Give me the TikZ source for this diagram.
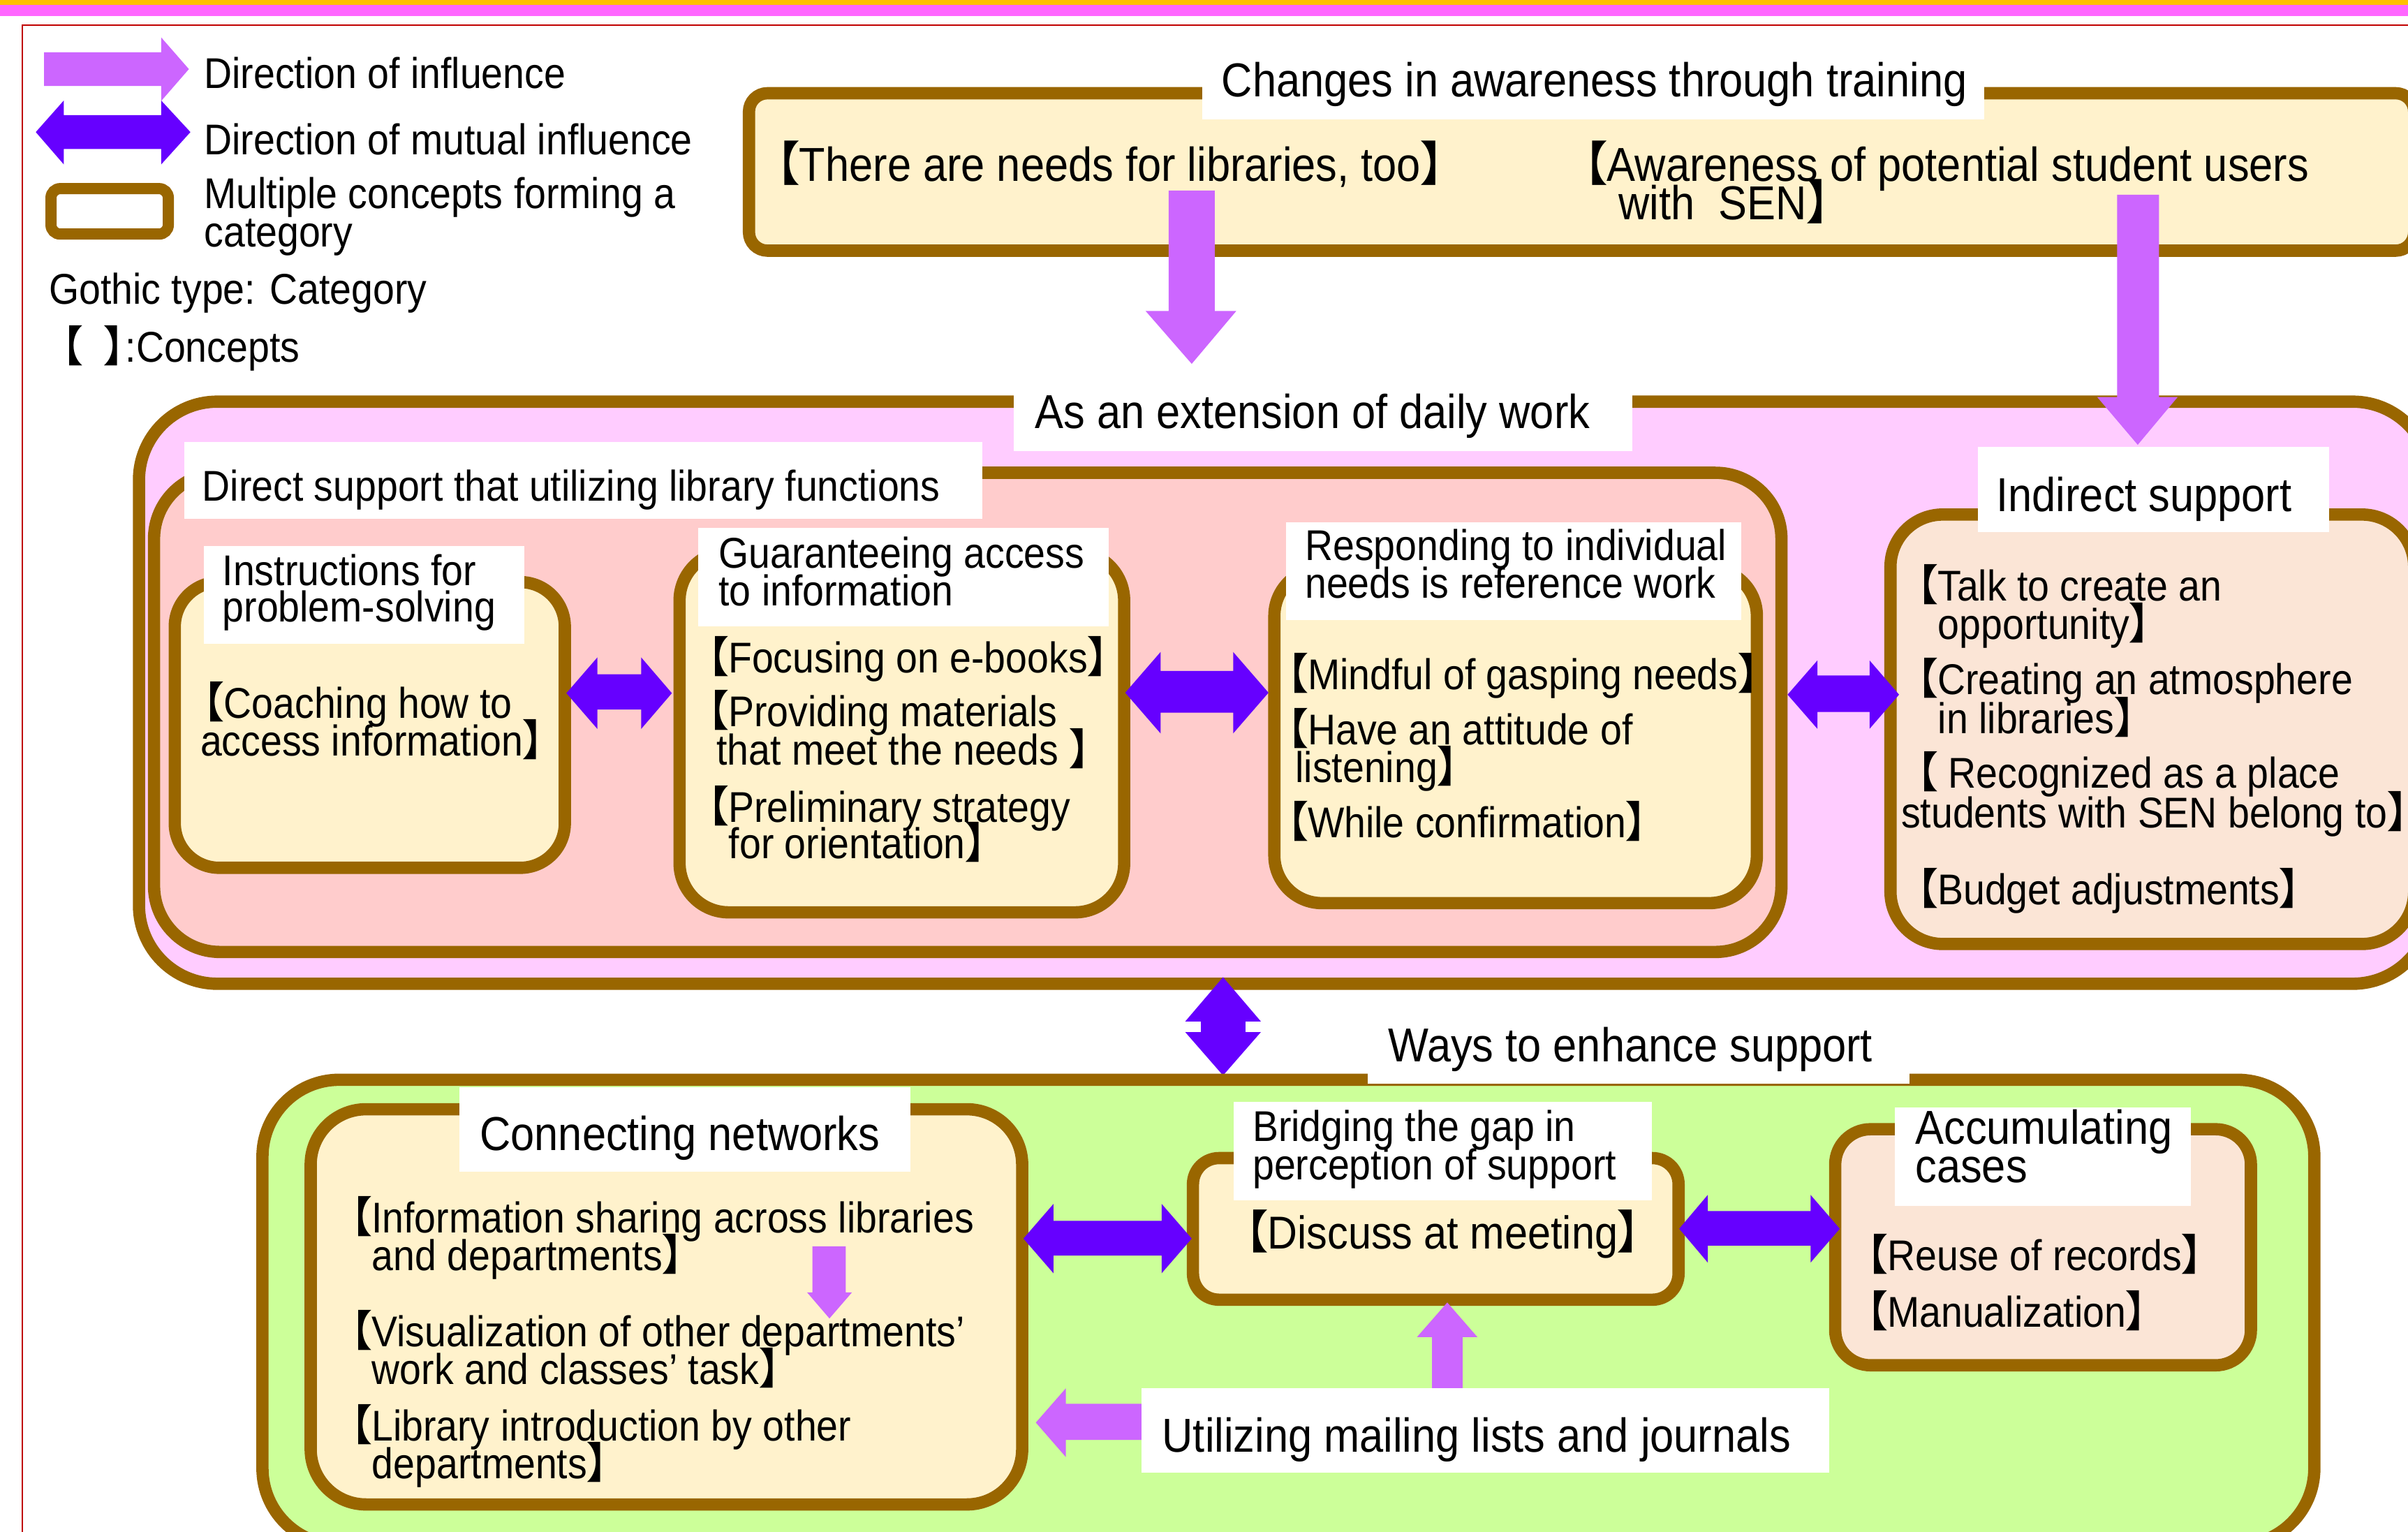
\documentclass[tikz,border=0pt]{standalone}
\usepackage{fontspec}
\setmainfont{Liberation Sans}[FakeStretch=0.9]
\newfontfamily\cjk{Noto Sans CJK JP}[RawFeature=+palt]
\usetikzlibrary{fit}
\definecolor{brownB}{HTML}{996600}
\definecolor{creamF}{HTML}{FFF2CC}
\definecolor{pinkF}{HTML}{FFCCFF}
\definecolor{salmonF}{HTML}{FFCCCC}
\definecolor{peachF}{HTML}{FBE5D6}
\definecolor{greenF}{HTML}{CCFF99}
\definecolor{inflC}{HTML}{CC66FF}
\definecolor{mutC}{HTML}{6600FF}
\definecolor{barO}{HTML}{FFC000}
\definecolor{barM}{HTML}{FF66FF}
\definecolor{frameR}{HTML}{C00000}
\newdimen\ov \ov=2.2pt
\newcommand\lb{{\cjk 【}}
\newcommand\rb{{\cjk 】}}
\newcommand\fmed{\fontsize{61.6pt}{54pt}\selectfont}
\newcommand\fbig{\fontsize{68.2pt}{55pt}\selectfont}
\newcommand\fdis{\fontsize{66pt}{55pt}\selectfont}
\newcommand\TwoL[4]{\vtop{\baselineskip=#1\ov\lineskiplimit=-\maxdimen\lineskip=0pt\hbox{#3}\hbox{\kern#2\ov #4}}}
\newcommand\dblH[8]{\fill[mutC] (#1,{(#5+#8)/2}) -- (#2,#5) -- (#2,#6) -- (#3,#6) -- (#3,#5) -- (#4,{(#5+#8)/2}) -- (#3,#8) -- (#3,#7) -- (#2,#7) -- (#2,#8) -- cycle;}
\begin{document}
\begin{tikzpicture}[x=2.2pt,y=-2.2pt,
  box/.style={draw=brownB,line width=17.6pt,inner sep=0pt,outer sep=0pt},
  txt/.style={anchor=base west,inner sep=0pt,outer sep=0pt,text=black},
  med/.style={txt,font=\fmed},
  bigt/.style={txt,font=\fbig}]
\useasboundingbox (0,0) rectangle (1568,997);
\fill[barO] (0,0) rectangle (1568,3.2);
\fill[barM] (0,3.2) rectangle (1568,10.5);
\draw[frameR,line width=2pt] (14.4,16.4) rectangle (1600,1030);
% legend
\fill[inflC] (28.7,34) -- (105,34) -- (105,24.4) -- (123,45) -- (105,65.7) -- (105,56) -- (28.7,56) -- cycle;
\fill[mutC] (23.3,86) -- (41.5,65.5) -- (41.5,75) -- (105,75) -- (105,65.5) -- (124,86) -- (105,107) -- (105,97) -- (41.5,97) -- (41.5,107) -- cycle;
\node[box,line width=16pt,fill=white,rounded corners=13.2pt,fit={(33.2,122.8) (109.6,152.4)}] (legbox) {};
\node[med] (leg1) at (133,57.6) {Direction of influence};
\node[med] (leg2) at (133,100.6) {Direction of mutual influence};
\node[med] (leg3) at (133,135.6) {\TwoL{25}{0}{Multiple concepts forming a}{category}};
\node[med] (leg4) at (32,198) {Gothic type: Category};
\node[med] (leg5) at (40,235.5) {\makebox[27.7\ov][l]{\lb}\rb:Concepts};
% top box
\node[box,fill=creamF,rounded corners=26.4pt,fit={(487.7,60.7) (1572,163.2)}] (T) {};
\fill[white] (783,35) rectangle (1292,77.7);
\node[bigt] (Tt) at (795.5,63) {Changes in awareness through training};
\node[bigt] (T1) at (505,117.8) {\lb There are needs for libraries, too\rb};
\node[bigt] (T2) at (1031,117.8) {\TwoL{25}{23}{\lb Awareness of potential student users}{with\ \ SEN\rb}};
% pink outer
\node[box,fill=pinkF,rounded corners=112.2pt,fit={(90.5,261.5) (1583,640.5)}] (P) {};
\fill[inflC] (761,124) -- (791,124) -- (791,202.5) -- (805,202.5) -- (776,236.9) -- (746,202.5) -- (761,202.5) -- cycle;
\fill[inflC] (1378.6,126.8) -- (1405.9,126.8) -- (1405.9,258.5) -- (1418,258.5) -- (1392,289.6) -- (1365.6,258.5) -- (1378.6,258.5) -- cycle;
\fill[white] (660,255.5) rectangle (1063,293.6);
\node[bigt] (Pt) at (674,279) {As an extension of daily work};
% direct support
\node[box,fill=salmonF,rounded corners=94.6pt,fit={(100.3,307.8) (1160,619.8)}] (D) {};
\fill[white] (120,287.7) rectangle (639.8,338);
\node[med] (Dt) at (131.8,326) {Direct support that utilizing library functions};
% instructions
\node[box,fill=creamF,rounded corners=63.8pt,fit={(113.8,379) (367.8,565)}] (I) {};
\fill[white] (132.7,355.5) rectangle (341.4,419);
\node[med] (It) at (144.9,381.4) {\TwoL{23.4}{0}{Instructions for}{problem-solving}};
\node[med] (I1) at (131.8,467.6) {\TwoL{24.7}{-1.3}{\lb Coaching how to}{access information\rb}};
% guaranteeing
\node[box,fill=creamF,rounded corners=70.4pt,fit={(442.5,359) (732,594)}] (G) {};
\fill[white] (454.6,343.7) rectangle (722,408);
\node[med] (Gt) at (468,369.9) {\TwoL{24.6}{0}{Guaranteeing access}{to information}};
\node[med] (G1) at (460.3,438) {\lb Focusing on e-books\rb};
\node[med] (G2) at (460.3,473) {\TwoL{25}{6.3}{\lb Providing materials}{that meet the needs \rb}};
\node[med] (G3) at (460.3,535.5) {\TwoL{23.5}{14.3}{\lb Preliminary strategy}{for orientation\rb}};
% responding
\node[box,fill=creamF,rounded corners=68.2pt,fit={(829.8,370) (1144,588)}] (R) {};
\fill[white] (837.6,340) rectangle (1134,403.9);
\node[med] (Rt) at (849.8,364.9) {\TwoL{24.7}{0}{Responding to individual}{needs is reference work}};
\node[med] (R1) at (837.6,449) {\lb Mindful of gasping needs\rb};
\node[med] (R2) at (837.6,484.9) {\TwoL{24.6}{6}{\lb Have an attitude of}{listening\rb}};
\node[med] (R3) at (837.6,545.3) {\lb While confirmation\rb};
% indirect
\node[box,fill=peachF,rounded corners=74.8pt,fit={(1231,335) (1572,614.6)}] (N) {};
\fill[white] (1287.8,291) rectangle (1516.4,346.4);
\node[bigt] (Nt) at (1300,333) {Indirect support};
\node[med] (N1) at (1247.7,391.3) {\TwoL{24.7}{14.3}{\lb Talk to create an}{opportunity\rb}};
\node[med] (N2) at (1247.7,452.3) {\TwoL{25.2}{14.3}{\lb Creating an atmosphere}{in libraries\rb}};
\node[med] (N3) at (1247.7,513) {\TwoL{26}{-9.7}{\lb\ Recognized as a place}{students with SEN belong to\rb}};
\node[med] (N4) at (1247.7,589) {\lb Budget adjustments\rb};
% mutual arrows row
\dblH{368.8}{389}{417.5}{437.5}{428}{439}{462}{474.6}
\dblH{732.7}{755.7}{803}{826}{424.5}{436.8}{464}{477.5}
\dblH{1164}{1183.4}{1217.4}{1236.6}{430}{439.8}{463.5}{474.5}
% vertical mutual
\fill[mutC] (796.4,636.2) -- (821,665) -- (811,665) -- (811,672) -- (821,672) -- (796.4,700.2) -- (771.8,672) -- (782,672) -- (782,665) -- (771.8,665) -- cycle;
% green
\node[box,fill=greenF,rounded corners=110pt,fit={(170.9,703) (1507,1006)}] (W) {};
\fill[white] (890.8,655) rectangle (1243.5,705.5);
\node[bigt] (Wt) at (904,691.3) {Ways to enhance support};
% connecting
\node[box,fill=creamF,rounded corners=79.2pt,fit={(202.3,722.2) (665.6,979.5)}] (C) {};
\fill[white] (299,707.8) rectangle (593,763);
\node[bigt] (Ct) at (312.5,749) {Connecting networks};
\node[med] (C1) at (228,802.6) {\TwoL{24.7}{14.3}{\lb Information sharing across libraries}{and departments\rb}};
\node[med] (C2) at (228,876.8) {\TwoL{24.7}{14.3}{\lb Visualization of other departments’}{work and classes’ task\rb}};
\node[med] (C3) at (228,938) {\TwoL{24.7}{14.3}{\lb Library introduction by other}{departments\rb}};
\fill[inflC] (529,811.4) -- (550.7,811.4) -- (550.7,841.4) -- (554.8,841.4) -- (540.1,858.4) -- (525.5,841.4) -- (529,841.4) -- cycle;
% bridging
\node[box,fill=creamF,rounded corners=37.4pt,fit={(776.8,754) (1093,846.2)}] (B) {};
\fill[white] (803.4,717.2) rectangle (1075.7,781.4);
\node[med] (Bt) at (815.7,743) {\TwoL{25}{0}{Bridging the gap in}{perception of support}};
\node[txt,font=\fdis] (B1) at (810.4,813) {\lb Discuss at meeting\rb};
% accumulating
\node[box,fill=peachF,rounded corners=50.6pt,fit={(1195,735.2) (1465.7,888.9)}] (A) {};
\fill[white] (1233.8,720.9) rectangle (1426.8,785);
\node[bigt] (At) at (1247.2,745) {\TwoL{25}{0}{Accumulating}{cases}};
\node[med] (A1) at (1215,827) {\lb Reuse of records\rb};
\node[med] (A2) at (1215,863.9) {\lb Manualization\rb};
\dblH{666.4}{686}{756.4}{776}{783.8}{794.9}{817.5}{829}
\dblH{1093.4}{1112}{1179}{1198}{778}{788.5}{811}{822}
% utilizing
\fill[inflC] (932.5,905) -- (952.4,905) -- (952.4,870.5) -- (962,870.5) -- (942.4,848) -- (922.7,870.5) -- (932.5,870.5) -- cycle;
\fill[inflC] (743.5,914) -- (694,914) -- (694,903.9) -- (674.5,926.2) -- (694,948.6) -- (694,937.5) -- (743.5,937.5) -- cycle;
\fill[white] (743.4,903.9) rectangle (1191,959);
\node[bigt] (Ut) at (756.8,945.5) {Utilizing mailing lists and journals};
\end{tikzpicture}
\end{document}
